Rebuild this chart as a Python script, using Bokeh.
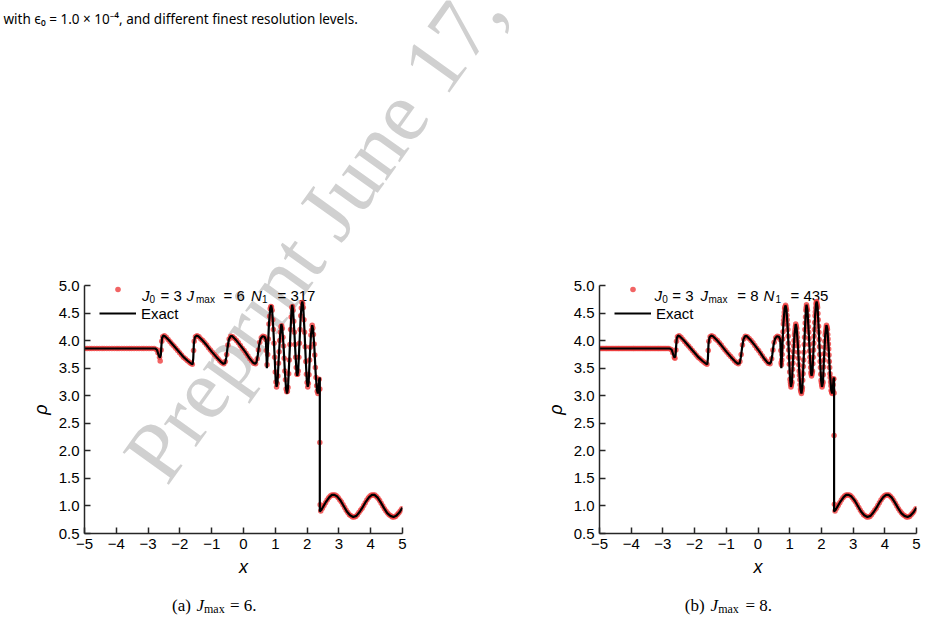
import math
from bokeh.plotting import figure
from bokeh.models import Legend, LegendItem, Label, FixedTicker, Range1d, GridBox
from bokeh.embed import file_html
from bokeh.resources import INLINE

# ---------------- data ----------------
x_ticks = [-5, -4, -3, -2, -1, 0, 1, 2, 3, 4, 5]
x_tick_labels = ["\u22125", "\u22124", "\u22123", "\u22122", "\u22121", "0", "1", "2", "3", "4", "5"]
y_ticks = [0.5, 1.0, 1.5, 2.0, 2.5, 3.0, 3.5, 4.0, 4.5, 5.0]
y_tick_labels = ["0.5", "1.0", "1.5", "2.0", "2.5", "3.0", "3.5", "4.0", "4.5", "5.0"]

# exact solution (black line)
exact_x = [-5.00, -2.78, -2.72, -2.67, -2.63, -2.60, -2.58, -2.56, -2.52, -2.47,
           -2.35, -2.20, -2.05, -1.90, -1.75, -1.64, -1.60, -1.58, -1.56, -1.53,
           -1.48, -1.42, -1.30, -1.15, -1.00, -0.85, -0.72, -0.63, -0.58, -0.54,
           -0.50, -0.46, -0.41, -0.35, -0.22, -0.08, 0.06, 0.20, 0.30, 0.37,
           0.41, 0.45, 0.49, 0.54, 0.60, 0.66, 0.70, 0.72, 0.735, 0.76,
           0.80, 0.84, 0.87, 0.90, 0.94, 0.98, 1.01, 1.04, 1.07, 1.11,
           1.15, 1.19, 1.22, 1.26, 1.30, 1.34, 1.37, 1.40, 1.44, 1.48,
           1.51, 1.53, 1.56, 1.60, 1.64, 1.67, 1.69, 1.72, 1.76, 1.80,
           1.83, 1.85, 1.88, 1.92, 1.96, 1.99, 2.02, 2.05, 2.08, 2.12,
           2.16, 2.19, 2.23, 2.27, 2.31, 2.34, 2.36, 2.38, 2.40, 2.40,
           2.45, 2.50, 2.60, 2.70, 2.78, 2.86, 2.95, 3.05, 3.15, 3.25,
           3.35, 3.45, 3.55, 3.65, 3.75, 3.85, 3.95, 4.04, 4.12, 4.22,
           4.32, 4.42, 4.52, 4.62, 4.72, 4.80, 4.90, 5.00]
exact_rho = [3.857, 3.857, 3.83, 3.74, 3.69, 3.74, 3.92, 4.05, 4.09, 4.08,
             4.01, 3.91, 3.81, 3.71, 3.63, 3.58, 3.57, 3.68, 3.95, 4.06,
             4.09, 4.08, 4.01, 3.91, 3.80, 3.70, 3.62, 3.58, 3.59, 3.70,
             3.88, 4.02, 4.08, 4.08, 4.00, 3.90, 3.79, 3.67, 3.60, 3.58,
             3.61, 3.74, 3.92, 4.04, 4.08, 4.07, 4.02, 3.80, 3.50, 3.75,
             4.30, 4.58, 4.64, 4.55, 4.20, 3.70, 3.30, 3.16, 3.25, 3.70,
             4.10, 4.30, 4.22, 3.90, 3.45, 3.12, 3.04, 3.15, 3.65, 4.20,
             4.55, 4.65, 4.55, 4.15, 3.70, 3.42, 3.36, 3.45, 3.95, 4.45,
             4.66, 4.71, 4.60, 4.15, 3.62, 3.28, 3.16, 3.25, 3.65, 4.10,
             4.28, 4.20, 3.85, 3.40, 3.10, 3.04, 3.10, 3.30, 3.33, 0.90,
             0.93, 0.98, 1.08, 1.16, 1.20, 1.20, 1.17, 1.10, 1.00, 0.90,
             0.83, 0.80, 0.82, 0.89, 0.98, 1.08, 1.16, 1.20, 1.20, 1.15,
             1.06, 0.96, 0.87, 0.82, 0.80, 0.82, 0.88, 0.97]

# numerical points (red dots), in pieces
flat_x = [-5.00, -4.92, -4.84, -4.77, -4.69, -4.61, -4.53, -4.45, -4.38, -4.30,
          -4.22, -4.14, -4.06, -3.98, -3.91, -3.83, -3.75, -3.67, -3.59, -3.52,
          -3.44, -3.36, -3.28, -3.20, -3.13, -3.05, -2.97, -2.89, -2.81]
flat_rho = [3.857, 3.857, 3.857, 3.857, 3.857, 3.857, 3.857, 3.857, 3.857, 3.857,
            3.857, 3.857, 3.857, 3.857, 3.857, 3.857, 3.857, 3.857, 3.857, 3.857,
            3.857, 3.857, 3.857, 3.857, 3.857, 3.857, 3.857, 3.857, 3.857]
flat_b_x = [-4.96, -4.88, -4.80, -4.73, -4.65, -4.57, -4.49, -4.41, -4.34, -4.26,
            -4.18, -4.10, -4.02, -3.94, -3.87, -3.79, -3.71, -3.63, -3.55, -3.48,
            -3.40, -3.32, -3.24, -3.16, -3.09, -3.01, -2.93, -2.85]
flat_b_rho = [3.857, 3.857, 3.857, 3.857, 3.857, 3.857, 3.857, 3.857, 3.857, 3.857,
              3.857, 3.857, 3.857, 3.857, 3.857, 3.857, 3.857, 3.857, 3.857, 3.857,
              3.857, 3.857, 3.857, 3.857, 3.857, 3.857, 3.857, 3.857]

low_x = [-2.74, -2.69, -2.64, -2.59, -2.57, -2.54, -2.49, -2.43, -2.37, -2.31,
         -2.25, -2.19, -2.13, -2.07, -2.01, -1.95, -1.89, -1.83, -1.77, -1.71,
         -1.66, -1.61, -1.57, -1.55, -1.51, -1.46, -1.40, -1.34, -1.28, -1.22,
         -1.16, -1.10, -1.04, -0.98, -0.92, -0.86, -0.80, -0.74, -0.68, -0.62,
         -0.57, -0.53, -0.49, -0.45, -0.40, -0.34, -0.28, -0.22, -0.16, -0.10,
         -0.04, 0.02, 0.08, 0.14, 0.20, 0.26, 0.32, 0.38, 0.43, 0.47,
         0.51, 0.56, 0.61, 0.66, 0.70]
low_rho = [3.84, 3.78, 3.70, 3.83, 3.99, 4.07, 4.09, 4.06, 4.02, 3.98,
           3.94, 3.90, 3.86, 3.82, 3.78, 3.74, 3.70, 3.67, 3.64, 3.61,
           3.59, 3.57, 3.82, 3.99, 4.07, 4.09, 4.07, 4.03, 4.00, 3.96,
           3.92, 3.87, 3.83, 3.79, 3.75, 3.71, 3.67, 3.63, 3.60, 3.58,
           3.62, 3.75, 3.92, 4.03, 4.08, 4.07, 4.04, 4.00, 3.96, 3.91,
           3.86, 3.82, 3.77, 3.72, 3.67, 3.63, 3.59, 3.58, 3.67, 3.83,
           3.97, 4.05, 4.08, 4.07, 4.02]

dip_a_x, dip_a_rho = [-2.62], [3.63]
dip_b_x, dip_b_rho = [-2.62], [3.68]

hf_x = [0.72, 0.74, 0.76, 0.78, 0.80, 0.82, 0.84, 0.86, 0.88, 0.90,
        0.92, 0.94, 0.96, 0.98, 1.00, 1.02, 1.04, 1.06, 1.08, 1.10,
        1.12, 1.14, 1.16, 1.18, 1.20, 1.22, 1.24, 1.26, 1.28, 1.30,
        1.32, 1.34, 1.36, 1.38, 1.40, 1.42, 1.44, 1.46, 1.48, 1.50,
        1.52, 1.54, 1.56, 1.58, 1.60, 1.62, 1.64, 1.66, 1.68, 1.70,
        1.72, 1.74, 1.76, 1.78, 1.80, 1.82, 1.84, 1.86, 1.88, 1.90,
        1.92, 1.94, 1.96, 1.98, 2.00, 2.02, 2.04, 2.06, 2.08, 2.10,
        2.12, 2.14, 2.16, 2.18, 2.20, 2.22, 2.24, 2.26, 2.28, 2.30,
        2.32, 2.34, 2.36, 2.38]
hf_rho = [3.82, 3.56, 3.75, 4.03, 4.30, 4.44, 4.58, 4.62, 4.61, 4.55,
          4.38, 4.20, 3.95, 3.70, 3.43, 3.25, 3.16, 3.22, 3.36, 3.59,
          3.80, 4.00, 4.15, 4.25, 4.27, 4.22, 4.06, 3.90, 3.68, 3.45,
          3.29, 3.12, 3.07, 3.08, 3.15, 3.40, 3.65, 3.93, 4.20, 4.43,
          4.60, 4.62, 4.55, 4.35, 4.15, 3.93, 3.70, 3.51, 3.39, 3.39,
          3.45, 3.70, 3.95, 4.20, 4.45, 4.59, 4.69, 4.67, 4.60, 4.38,
          4.15, 3.89, 3.62, 3.39, 3.24, 3.16, 3.22, 3.38, 3.65, 3.88,
          4.10, 4.19, 4.28, 4.23, 4.11, 3.94, 3.74, 3.51, 3.33, 3.18,
          3.08, 3.04, 3.10, 3.30]

hf_b_x = [0.73, 0.75, 0.77, 0.79, 0.81, 0.83, 0.85, 0.87, 0.89, 0.91,
          0.93, 0.95, 0.97, 0.99, 1.01, 1.03, 1.05, 1.07, 1.09, 1.11,
          1.13, 1.15, 1.17, 1.19, 1.21, 1.23, 1.25, 1.27, 1.29, 1.31,
          1.33, 1.35, 1.37, 1.39, 1.41, 1.43, 1.45, 1.47, 1.49, 1.51,
          1.53, 1.55, 1.57, 1.59, 1.61, 1.63, 1.65, 1.67, 1.69, 1.71,
          1.73, 1.75, 1.77, 1.79, 1.81, 1.83, 1.85, 1.87, 1.89, 1.91,
          1.93, 1.95, 1.97, 1.99, 2.01, 2.03, 2.05, 2.07, 2.09, 2.11,
          2.13, 2.15, 2.17, 2.19, 2.21, 2.23, 2.25, 2.27, 2.29, 2.31,
          2.33, 2.35, 2.37, 2.39]
hf_b_rho = [3.60, 3.65, 3.89, 4.16, 4.37, 4.51, 4.60, 4.64, 4.58, 4.46,
            4.29, 4.08, 3.83, 3.57, 3.30, 3.21, 3.19, 3.25, 3.48, 3.70,
            3.90, 4.10, 4.20, 4.30, 4.25, 4.14, 3.98, 3.79, 3.56, 3.37,
            3.20, 3.09, 3.04, 3.11, 3.28, 3.53, 3.79, 4.06, 4.32, 4.55,
            4.65, 4.58, 4.45, 4.25, 4.04, 3.81, 3.61, 3.42, 3.36, 3.42,
            3.58, 3.83, 4.08, 4.33, 4.52, 4.66, 4.71, 4.64, 4.49, 4.26,
            4.02, 3.75, 3.51, 3.28, 3.20, 3.19, 3.25, 3.52, 3.76, 3.99,
            4.15, 4.24, 4.25, 4.20, 4.03, 3.85, 3.62, 3.40, 3.25, 3.10,
            3.06, 3.07, 3.20, 3.31]

shock_a_x, shock_a_rho = [2.40, 2.40, 2.41], [3.12, 2.15, 1.02]
shock_b_x, shock_b_rho = [2.40, 2.40, 2.41], [3.05, 2.28, 1.03]

right_x = [2.43, 2.48, 2.53, 2.58, 2.63, 2.68, 2.73, 2.78, 2.83, 2.88,
           2.93, 2.98, 3.03, 3.08, 3.13, 3.18, 3.23, 3.28, 3.33, 3.38,
           3.43, 3.48, 3.53, 3.58, 3.63, 3.68, 3.73, 3.78, 3.83, 3.88,
           3.93, 3.98, 4.03, 4.08, 4.13, 4.18, 4.23, 4.28, 4.33, 4.38,
           4.43, 4.48, 4.53, 4.58, 4.63, 4.68, 4.73, 4.78, 4.83, 4.88,
           4.93, 4.98]
right_rho = [0.91, 0.96, 1.01, 1.06, 1.11, 1.15, 1.18, 1.20, 1.20, 1.20,
             1.18, 1.15, 1.11, 1.07, 1.02, 0.97, 0.92, 0.88, 0.84, 0.82,
             0.80, 0.80, 0.81, 0.84, 0.88, 0.92, 0.96, 1.01, 1.06, 1.11,
             1.15, 1.18, 1.20, 1.20, 1.20, 1.17, 1.14, 1.10, 1.05, 1.00,
             0.95, 0.91, 0.87, 0.84, 0.82, 0.80, 0.80, 0.81, 0.84, 0.87,
             0.91, 0.95]

num_a_x = flat_x + dip_a_x + low_x + hf_x + shock_a_x + right_x
num_a_rho = flat_rho + dip_a_rho + low_rho + hf_rho + shock_a_rho + right_rho
num_b_x = flat_x + flat_b_x + dip_b_x + low_x + hf_x + hf_b_x + shock_b_x + right_x
num_b_rho = flat_rho + flat_b_rho + dip_b_rho + low_rho + hf_rho + hf_b_rho + shock_b_rho + right_rho

# ---------------- layout constants ----------------
W, H = 927, 619
TOP = 285
BOTTOM = 86
FRAME_BOTTOM = H - BOTTOM
SANS = "Liberation Sans"
SERIF = "Liberation Serif"
W_A = 520
W_B = W - W_A

# ---------- page layer: texts living outside the plot frames ----------
page = figure(width=W, height=H, x_range=Range1d(0, W), y_range=Range1d(H, 0),
              output_backend="svg", toolbar_location=None, title=None,
              x_axis_type=None, y_axis_type=None, min_border=0)
page.frame_align = False
page.outline_line_color = None
page.background_fill_color = "white"
page.border_fill_color = "white"


def page_text(X, Y, text, size, font=SANS, style="normal", color="black",
              angle=0.0, level="annotation"):
    page.add_layout(Label(x=X, y=Y, text=text, text_font=font, text_font_size=f"{size}px",
                          text_font_style=style, text_color=color, angle=angle,
                          text_align="left", text_baseline="alphabetic", level=level))


# watermark
page_text(143, 470, "Preprint June 17,", 86, font=SERIF, color="#d0d0d0",
          angle=0.95, level="underlay")

# caption line at the top of the page
page_text(3, 18, "with \u03f5\u2080 = 1.0 \u00d7 10\u207b\u2074, and different finest resolution levels.",
          13.5, font="Noto Sans")

# legend texts, panel (a) and panel (b)
for X, Y, t, s, st in [(141.5, 295, "J", 15, "italic"), (149, 298.5, "0", 10, "normal"),
                       (160, 295, "= 3", 15, "normal"), (186, 295, "J", 15, "italic"),
                       (195.5, 298.5, "max", 10, "normal"), (223, 295, "= 6", 15, "normal"),
                       (250.5, 295, "N", 15, "italic"), (261.5, 298.5, "1", 10, "normal"),
                       (277, 295, "= 317", 15, "normal")]:
    page_text(X, Y, t, s, style=st)
for X, Y, t, s, st in [(654, 295, "J", 15, "italic"), (661.7, 298.5, "0", 10, "normal"),
                       (671.7, 295, "= 3", 15, "normal"), (700, 295, "J", 15, "italic"),
                       (708, 298.5, "max", 10, "normal"), (736.7, 295, "= 8", 15, "normal"),
                       (763, 295, "N", 15, "italic"), (775, 298.5, "1", 10, "normal"),
                       (790, 295, "= 435", 15, "normal")]:
    page_text(X, Y, t, s, style=st)

# sub-captions
for X, Y, t, s, st in [(171.5, 605, "(a)", 17, "normal"), (196, 605, "J", 17, "italic"),
                       (203.5, 608, "max", 12, "normal"), (229.5, 605, "= 6.", 17, "normal"),
                       (684.3, 605, "(b)", 17, "normal"), (710, 605, "J", 17, "italic"),
                       (717.7, 608, "max", 12, "normal"), (745, 605, "= 8.", 17, "normal")]:
    page_text(X, Y, t, s, font=SERIF, style=st)


def make_panel(width, left, right, xs, ys):
    p = figure(width=width, height=H, x_range=Range1d(-5, 5), y_range=Range1d(0.5, 5.0),
               output_backend="svg", toolbar_location=None,
               min_border_left=left, min_border_right=right,
               min_border_top=TOP, min_border_bottom=BOTTOM)
    p.frame_align = False
    p.outline_line_color = None
    p.grid.visible = False
    p.background_fill_alpha = 0
    p.border_fill_alpha = 0

    dots = p.scatter(xs, ys, size=5.5, fill_color="#ee3d3d", fill_alpha=0.8, line_color=None)
    line = p.line(exact_x, exact_rho, line_color="black", line_width=2.2)

    for ax in (p.xaxis[0], p.yaxis[0]):
        ax.major_tick_in = 6
        ax.major_tick_out = 0
        ax.minor_tick_line_color = None
        ax.axis_line_width = 1.5
        ax.axis_line_color = "#262626"
        ax.major_tick_line_color = "#262626"
        ax.major_tick_line_width = 1.5
        ax.major_label_text_font = SANS
        ax.major_label_text_font_size = "15px"
        ax.major_label_text_color = "black"
        ax.major_label_standoff = 5
        ax.axis_label_text_font = SANS
        ax.axis_label_text_font_style = "italic"
        ax.axis_label_text_font_size = "18px"
        ax.axis_label_text_color = "black"
        ax.axis_label_standoff = 5
    p.xaxis.ticker = FixedTicker(ticks=x_ticks)
    p.xaxis.major_label_overrides = dict(zip(x_ticks, x_tick_labels))
    p.yaxis.ticker = FixedTicker(ticks=y_ticks)
    p.yaxis.major_label_overrides = dict(zip(y_ticks, y_tick_labels))
    p.xaxis.axis_label = "x"
    p.yaxis.axis_label = "\u03c1"

    legend = Legend(items=[LegendItem(label=" ", renderers=[dots]),
                           LegendItem(label="Exact", renderers=[line])],
                    location=(15, FRAME_BOTTOM - 325), orientation="vertical",
                    padding=0, margin=0, spacing=0, glyph_width=37, glyph_height=14,
                    label_height=24, label_standoff=5, border_line_color=None,
                    background_fill_alpha=0, label_text_font=SANS,
                    label_text_font_size="15px", label_text_color="black")
    p.add_layout(legend)
    return p


pa = make_panel(W_A, 84, 118, num_a_x, num_a_rho)
pb = make_panel(W_B, 79, 11, num_b_x, num_b_rho)

layout = GridBox(children=[(page, 0, 0, 1, 2), (pa, 0, 0), (pb, 0, 1)], spacing=0)
open("out.html", "w").write(file_html(layout, INLINE))
